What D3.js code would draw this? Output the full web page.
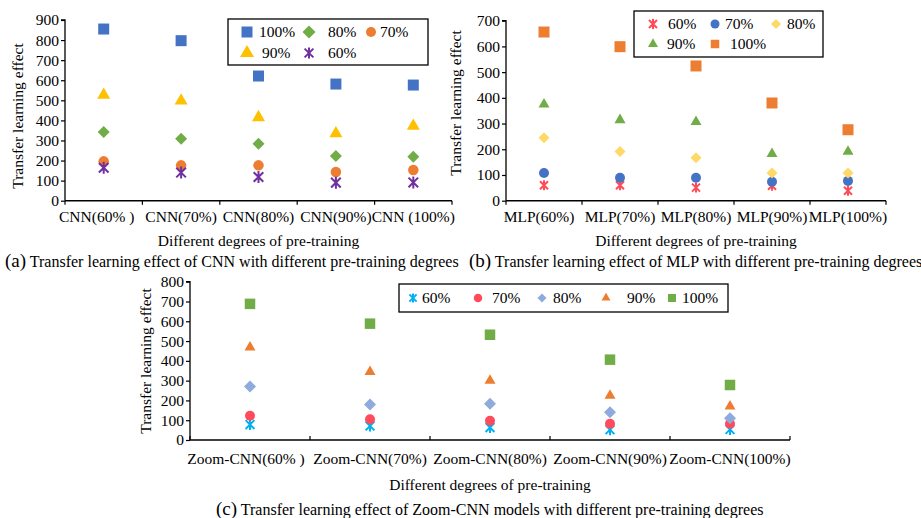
<!DOCTYPE html>
<html><head><meta charset="utf-8">
<script src="https://cdn.jsdelivr.net/npm/d3@7"></script>
<style>
body{margin:0;background:#fff;}
svg{display:block;}
</style></head>
<body>
<svg id="chart" width="921" height="518"></svg>
<script>
// ---------- DATA ----------
const catsA = ["CNN(60% )","CNN(70%)","CNN(80%)","CNN(90%)","CNN (100%)"];
const yTicksA = [0,100,200,300,400,500,600,700,800,900];
const a100 = [855,797,621,581,576];
const a90  = [527,498,415,335,372];
const a80  = [342,309,284,223,219];
const a70  = [196,176,176,143,153];
const a60  = [164,140,118,90,91];

const catsB = ["MLP(60%)","MLP(70%)","MLP(80%)","MLP(90%)","MLP(100%)"];
const yTicksB = [0,100,200,300,400,500,600,700];
const b60  = [60,60,51,58,39];
const b70  = [108,89,89,74,77];
const b80  = [245,191,167,108,108];
const b90  = [375,314,307,182,191];
const b100 = [656,599,524,380,276];

const catsC = ["Zoom-CNN(60% )","Zoom-CNN(70%)","Zoom-CNN(80%)","Zoom-CNN(90%)","Zoom-CNN(100%)"];
const yTicksC = [0,100,200,300,400,500,600,700,800];
const c60  = [78,71,63,52,53];
const c70  = [123,105,97,82,82];
const c80  = [270,180,183,140,110];
const c90  = [468,344,300,225,170];
const c100 = [688,588,532,406,278];

const xTitle = "Different degrees of pre-training";
const yTitle = "Transfer learning effect";
const captionA = ["(a)"," Transfer learning effect of CNN with different pre-training degrees"];
const captionB = ["(b)"," Transfer learning effect of MLP with different pre-training degrees"];
const captionC = ["(c)"," Transfer learning effect of Zoom-CNN models with different pre-training degrees"];

// ---------- HELPERS ----------
const FONT = "'Liberation Serif', 'Times New Roman', Times, 'DejaVu Serif', serif";
const FS = 15.5;
const svg = d3.select("#chart").attr("font-family", FONT);

function markerPath(shape, s){
  const r = s/2;
  if(shape==="asterisk"){
    const d = r*0.8;
    return `M${-d},${-d}L${d},${d}M${-d},${d}L${d},${-d}M0,${-r}L0,${r}`;
  }
  if(shape==="square") return `M${-r},${-r}H${r}V${r}H${-r}Z`;
  if(shape==="diamond") return `M0,${-r}L${r},0L0,${r}L${-r},0Z`;
  if(shape==="triangle"){ const h = s*Math.sqrt(3)/2; return `M0,${-h*2/3}L${r},${h/3}L${-r},${h/3}Z`; }
  if(shape==="circle") return `M${r},0A${r},${r} 0 1,1 ${-r},0A${r},${r} 0 1,1 ${r},0Z`;
}
function drawMarker(g, shape, color, s, x, y){
  const p = g.append("path").attr("d", markerPath(shape, s))
    .attr("transform", `translate(${x},${y})`);
  if(shape==="asterisk") p.attr("fill","none").attr("stroke",color).attr("stroke-width",2);
  else p.attr("fill",color);
}
function txt(sel, fs){ return sel.attr("font-family", FONT).attr("font-size", fs||FS).attr("fill","#000"); }

function panel(cfg){
  const g = svg.append("g");
  const x = d3.scaleBand().domain(cfg.cats).range([cfg.x0, cfg.x1]);
  const y = d3.scaleLinear().domain([0, cfg.ymax]).range([cfg.y0, cfg.y1]);

  // y axis
  const ya = d3.axisLeft(y).tickValues(cfg.yTicks).tickSize(4).tickPadding(2).tickFormat(d3.format("d"));
  const yg = g.append("g").attr("transform",`translate(${cfg.x0},0)`).call(ya)
    .attr("font-family", FONT).attr("font-size", FS);
  yg.select(".domain").attr("stroke","#000").attr("stroke-width",1.3).attr("d",`M-4,${cfg.y1}H0V${cfg.y0}`);
  yg.selectAll(".tick line").attr("stroke","#000").attr("stroke-width",1.2);
  yg.selectAll(".tick text").attr("fill","#000");

  // x axis
  const xg = g.append("g").attr("transform",`translate(0,${cfg.y0})`);
  xg.append("line").attr("x1",cfg.x0).attr("x2",cfg.x1).attr("y1",0).attr("y2",0)
    .attr("stroke","#000").attr("stroke-width",1.5);
  const bounds = cfg.cats.map(c=>x(c)).concat([cfg.x1]);
  xg.selectAll("line.tk").data(bounds).join("line").attr("class","tk")
    .attr("x1",d=>d).attr("x2",d=>d).attr("y1",0).attr("y2",cfg.xTickLen)
    .attr("stroke","#000").attr("stroke-width",1.2);
  txt(xg.selectAll("text.cat").data(cfg.cats).join("text").attr("class","cat")
    .attr("x",(d,i)=>x(d)+x.bandwidth()/2 - (i===0?cfg.firstShift:0)).attr("y",cfg.catY - cfg.y0)
    .attr("text-anchor","middle")).text(d=>d);

  // titles
  txt(g.append("text").attr("x",(cfg.x0+cfg.x1)/2).attr("y",cfg.xtY)
    .attr("text-anchor","middle")).text(xTitle);
  txt(g.append("text").attr("transform",`translate(${cfg.ytX},${cfg.ytY}) rotate(-90)`)
    .attr("text-anchor","middle")).text(yTitle);

  // caption
  const cap = txt(g.append("text").attr("x",cfg.capX).attr("y",cfg.capY), 16);
  cap.append("tspan").attr("font-size",19).text(cfg.caption[0]);
  cap.append("tspan").text(cfg.caption[1]);

  // points
  cfg.series.forEach(s=>{
    s.values.forEach((v,i)=>{
      drawMarker(g, s.shape, s.color, cfg.ms[s.shape], x(cfg.cats[i])+x.bandwidth()/2, y(v));
    });
  });

  // legend
  const L = cfg.legend;
  g.append("rect").attr("x",L.x).attr("y",L.y).attr("width",L.w).attr("height",L.h)
    .attr("fill","#fff").attr("stroke","#000").attr("stroke-width",1.3);
  L.items.forEach(it=>{
    const s = cfg.series.find(d=>d.name===it.name);
    drawMarker(g, s.shape, s.color, L.ms[s.shape], it.mx, it.my);
    txt(g.append("text").attr("x",it.tx).attr("y",it.my+5)).text(s.name);
  });
}

// ---------- PANEL A ----------
panel({
  cats:catsA, yTicks:yTicksA, ymax:900, x0:65, x1:452, y0:200.7, y1:20,
  xTickLen:4, catY:222, firstShift:7, xtY:246, ytX:23, ytY:116, capX:5, capY:267, caption:captionA,
  ms:{square:11, diamond:12, circle:10.5, triangle:13, asterisk:12},
  series:[
    {name:"100%", values:a100, shape:"square", color:"#4472C4"},
    {name:"80%", values:a80, shape:"diamond", color:"#70AD47"},
    {name:"70%", values:a70, shape:"circle", color:"#ED7D31"},
    {name:"90%", values:a90, shape:"triangle", color:"#FFC000"},
    {name:"60%", values:a60, shape:"asterisk", color:"#7030A0"}
  ],
  legend:{x:228, y:19, w:200, h:46,
    ms:{square:11, diamond:13, circle:10, triangle:14, asterisk:11},
    items:[
      {name:"100%", mx:247, my:32, tx:259},
      {name:"80%", mx:309, my:32, tx:328},
      {name:"70%", mx:371, my:32, tx:380},
      {name:"90%", mx:247, my:53, tx:262},
      {name:"60%", mx:309, my:53, tx:328}
    ]}
});

// ---------- PANEL B ----------
panel({
  cats:catsB, yTicks:yTicksB, ymax:700, x0:506, x1:886, y0:200.7, y1:20.7,
  xTickLen:4, catY:222, firstShift:5, xtY:246, ytX:461, ytY:103, capX:469, capY:267, caption:captionB,
  ms:{square:11, diamond:11, circle:10, triangle:11, asterisk:10},
  series:[
    {name:"60%", values:b60, shape:"asterisk", color:"#FF4B55"},
    {name:"70%", values:b70, shape:"circle", color:"#4472C4"},
    {name:"80%", values:b80, shape:"diamond", color:"#FFD966"},
    {name:"90%", values:b90, shape:"triangle", color:"#70AD47"},
    {name:"100%", values:b100, shape:"square", color:"#ED7D31"}
  ],
  legend:{x:634, y:11, w:189, h:46,
    ms:{square:8.5, diamond:10, circle:9, triangle:10, asterisk:10},
    items:[
      {name:"60%", mx:653, my:24, tx:668},
      {name:"70%", mx:715, my:24, tx:725},
      {name:"80%", mx:776, my:24, tx:787},
      {name:"90%", mx:653, my:44, tx:667},
      {name:"100%", mx:715, my:44, tx:730}
    ]}
});

// ---------- PANEL C ----------
panel({
  cats:catsC, yTicks:yTicksC, ymax:800, x0:190, x1:790, y0:440, y1:281.7,
  xTickLen:-4, catY:464, firstShift:4, xtY:490, ytX:151, ytY:361, capX:216, capY:515, caption:captionC,
  ms:{square:10.5, diamond:12, circle:10, triangle:11, asterisk:11},
  series:[
    {name:"60%", values:c60, shape:"asterisk", color:"#00B0F0"},
    {name:"70%", values:c70, shape:"circle", color:"#FF4B5C"},
    {name:"80%", values:c80, shape:"diamond", color:"#8FAADC"},
    {name:"90%", values:c90, shape:"triangle", color:"#ED7D31"},
    {name:"100%", values:c100, shape:"square", color:"#70AD47"}
  ],
  legend:{x:399, y:284, w:329, h:28,
    ms:{square:8, diamond:9, circle:8.5, triangle:9, asterisk:9},
    items:[
      {name:"60%", mx:413, my:298, tx:422},
      {name:"70%", mx:478, my:298, tx:492},
      {name:"80%", mx:542, my:298, tx:553},
      {name:"90%", mx:606, my:298, tx:627},
      {name:"100%", mx:672, my:298, tx:682}
    ]}
});
</script>
</body></html>
